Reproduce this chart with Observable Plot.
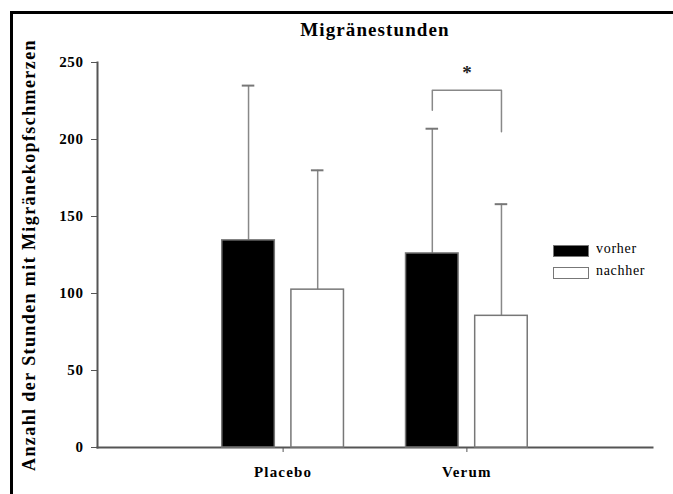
<!DOCTYPE html>
<html><head><meta charset="utf-8">
<script src="https://cdn.jsdelivr.net/npm/d3@7"></script>
<script src="https://cdn.jsdelivr.net/npm/@observablehq/plot@0.6"></script>
<style>
body{margin:0;background:#fff;}
#wrap{position:relative;width:673px;height:494px;overflow:hidden;font-family:"Liberation Serif","Times New Roman",serif;background:#fff;}
#frame{position:absolute;left:10px;top:11px;width:700px;height:600px;border-top:3px solid #000;border-left:3px solid #000;box-sizing:border-box;pointer-events:none;}
.layer{position:absolute;left:0;top:0;}
#title{position:absolute;left:225px;width:300px;top:19px;text-align:center;font-weight:bold;font-size:19px;letter-spacing:1.1px;color:#000;}
#legend{position:absolute;left:553px;top:241px;letter-spacing:0.7px;}
#legend svg{box-sizing:border-box;border:1.5px solid #777;}
#legend div div{padding-bottom:3px;}
.layer svg text{font-family:"Liberation Serif","Times New Roman",serif;}
[aria-label="y-axis tick label"] text,[aria-label="x-axis tick label"] text{font-weight:bold;}
[aria-label="y-axis tick label"] text{letter-spacing:0.6px;}
[aria-label="x-axis tick label"] text{letter-spacing:1.2px;}
[aria-label="y-axis label"] text{font-weight:bold;font-size:18px;letter-spacing:1.4px;}
</style>
</head><body>
<div id="wrap">
  <div id="axes" class="layer"></div>
  <div id="bars" class="layer"></div>
  <div id="frame"></div>
  <div id="title">Migränestunden</div>
  <div id="legend"></div>
</div>
<script>
const groups = ["Placebo", "Verum"];
const times = ["vorher", "nachher"];
const vorherMean = [134.5, 126];
const vorherSD = [100.5, 81];
const nachherMean = [102.5, 85.5];
const nachherSD = [77.5, 72.5];
const yTicks = [0, 50, 100, 150, 200, 250];
const yLabel = "Anzahl der Stunden mit Migränekopfschmerzen";
const sigGroup = "Verum";
const sigLegs = [219, 205];
const sigTop = 232;
const sigStarY = 243;

const data = [];
groups.forEach((g, i) => {
  data.push({group: g, time: "vorher", mean: vorherMean[i], sd: vorherSD[i]});
  data.push({group: g, time: "nachher", mean: nachherMean[i], sd: nachherSD[i]});
});
const bracket = [
  {group: sigGroup, time: times[0], y: sigLegs[0]},
  {group: sigGroup, time: times[0], y: sigTop},
  {group: sigGroup, time: times[1], y: sigTop},
  {group: sigGroup, time: times[1], y: sigLegs[1]}
];
const star = [{group: sigGroup, y: sigStarY, t: "*"}];

const common = {
  width: 673, height: 494,
  marginLeft: 97, marginRight: 21, marginTop: 62, marginBottom: 47,
  style: {background: "transparent", color: "#000"}
};
const groupScale = {type: "band", domain: groups, paddingInner: 0.24, paddingOuter: 0.63, round: false, label: null};

// axes layer
const axes = Plot.plot({
  ...common,
  x: groupScale,
  y: {domain: [0, 250]},
  marks: [
    Plot.frame({anchor: "left", stroke: "#555", strokeWidth: 2}),
    Plot.frame({anchor: "bottom", stroke: "#555", strokeWidth: 2}),
    Plot.axisY({ticks: yTicks, tickSize: 6, tickPadding: 8, fontSize: 15, stroke: "#555",
      label: yLabel, labelAnchor: "center", labelArrow: "none", labelOffset: 75}),
    Plot.axisX({anchor: "bottom", tickSize: 5, tickPadding: 14, fontSize: 15, stroke: "#555", label: null})
  ]
});
document.getElementById("axes").appendChild(axes);

// bars layer (faceted by group)
const bars = Plot.plot({
  ...common,
  fx: {...groupScale, axis: null},
  x: {domain: times, paddingInner: 0.24, paddingOuter: 0.13, round: false, axis: null},
  y: {domain: [0, 250], axis: null},
  color: {domain: times, range: ["black", "white"]},
  marks: [
    Plot.ruleX(data, {fx: "group", x: "time", y1: "mean", y2: d => d.mean + d.sd, stroke: "#888", strokeWidth: 1.5}),
    Plot.tickY(data, {fx: "group", x: "time", y: d => d.mean + d.sd, insetLeft: 20, insetRight: 20, stroke: "#777", strokeWidth: 2}),
    Plot.barY(data, {fx: "group", x: "time", y: "mean", fill: "time", stroke: "#777", strokeWidth: 1.5}),
    Plot.line(bracket, {fx: "group", x: "time", y: "y", stroke: "#888", strokeWidth: 1.5}),
    Plot.text(star, {fx: "group", y: "y", text: "t", fontSize: 19, fontWeight: "bold", fill: "#222"})
  ]
});
document.getElementById("bars").appendChild(bars);

const legend = Plot.legend({
  color: {domain: times, range: ["black", "white"]},
  legend: "swatches", columns: 1, swatchWidth: 36, swatchHeight: 12,
  style: {fontFamily: "Liberation Serif, serif", fontSize: "14px", color: "#000"}
});
document.getElementById("legend").appendChild(legend);
</script>
</body></html>
